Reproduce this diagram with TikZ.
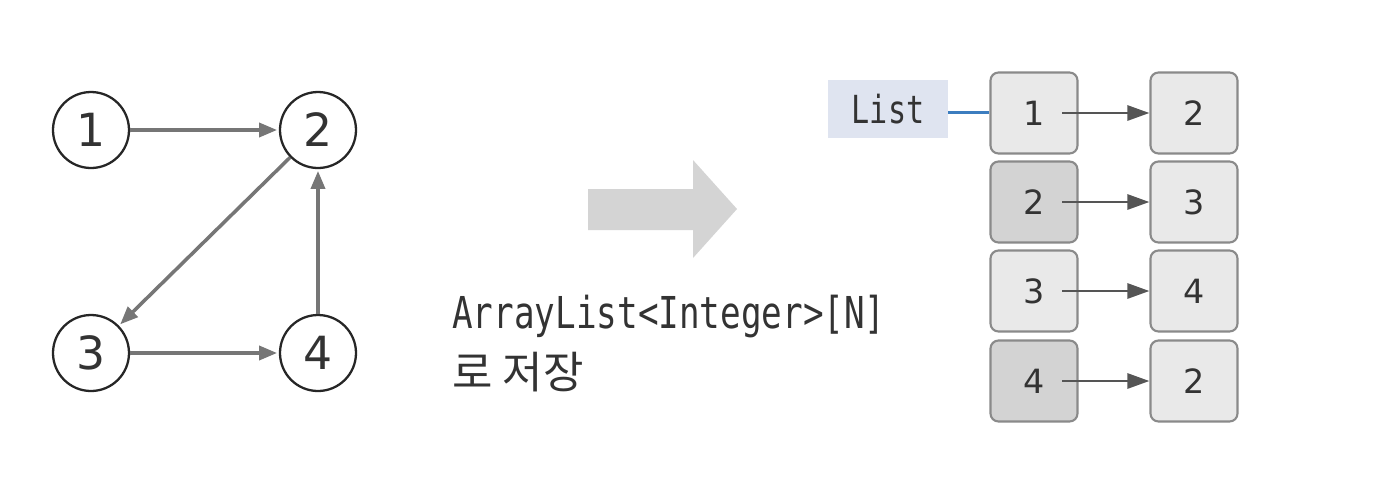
\documentclass[tikz,border=0pt]{standalone}
\usepackage{fontspec}
\usepackage{tikz}
\usetikzlibrary{arrows.meta}
\setmainfont{DejaVu Sans}
\newfontfamily\codefont[FakeStretch=0.78]{DejaVu Sans Mono}
\newfontfamily\kofont{Noto Sans CJK KR}
\definecolor{edgegray}{HTML}{767676}
\definecolor{linkgray}{HTML}{555555}
\definecolor{cellline}{HTML}{8A8A8A}
\definecolor{celllight}{HTML}{E9E9E9}
\definecolor{celldark}{HTML}{D3D3D3}
\definecolor{listfill}{HTML}{DFE4F0}
\definecolor{listline}{HTML}{3C7DBF}
\definecolor{bigarrow}{HTML}{D4D4D4}
\definecolor{txt}{HTML}{333333}

\begin{document}
\begin{tikzpicture}[x=0.2mm, y=-0.2mm,
    vertex/.style={circle, draw=black!85, line width=1.3pt, fill=white,
        minimum size=15.2mm, inner sep=0pt, text=txt, font=\fontsize{26}{26}\selectfont},
    edge/.style={draw=edgegray, line width=2pt, shorten >=1pt,
        -{Triangle[length=3.6mm, width=2.8mm]}},
    cell/.style={draw=cellline, rounded corners=1.6mm, line width=1.2pt,
        minimum width=17.4mm, minimum height=16.2mm, inner sep=0pt,
        text=txt, font=\fontsize{19}{19}\selectfont},
    link/.style={draw=linkgray, line width=1.6pt,
        -{Triangle[length=4.4mm, width=3mm]}}
]
    \useasboundingbox[fill=white] (0,0) rectangle (1375,498);

    % Graph
    \node[vertex] (v1) at (91,130) {1};
    \node[vertex] (v2) at (318,130) {2};
    \node[vertex] (v3) at (91,353) {3};
    \node[vertex] (v4) at (318,353) {4};
    \draw[edge] (v1) -- (v2);
    \draw[edge] (v2) -- (v3);
    \draw[edge] (v3) -- (v4);
    \draw[edge] (v4) -- (v2);

    % Big arrow
    \fill[bigarrow] (588,189) -- (693,189) -- (693,160) -- (737,209)
        -- (693,258) -- (693,230) -- (588,230) -- cycle;

    % Caption
    \node[anchor=base west, inner sep=0pt, text=txt,
        font=\codefont\fontsize{25}{25}\selectfont] (code) at (452,328)
        {ArrayList<Integer>[N]};
    \node[anchor=base west, inner sep=0pt, text=txt,
        font=\kofont\fontsize{25}{25}\selectfont] (save) at (452,388)
        {로 저장};

    % Adjacency list
    \node[cell, fill=celllight] (l1) at (1034,113) {1};
    \node[cell, fill=celldark]  (l2) at (1034,202) {2};
    \node[cell, fill=celllight] (l3) at (1034,291) {3};
    \node[cell, fill=celldark]  (l4) at (1034,381) {4};
    \node[cell, fill=celllight] (r1) at (1194,113) {2};
    \node[cell, fill=celllight] (r2) at (1194,202) {3};
    \node[cell, fill=celllight] (r3) at (1194,291) {4};
    \node[cell, fill=celllight] (r4) at (1194,381) {2};
    \foreach \i in {1,...,4}
        \draw[link] ([xshift=5.6mm]l\i.center) -- (r\i.west);

    % List label
    \node[fill=listfill, minimum width=24mm, minimum height=11.6mm, text=txt,
        font=\codefont\fontsize{22}{22}\selectfont] (list) at (888,109) {List};
    \draw[listline, line width=1.7pt] ([yshift=-0.6mm]list.east) -- ([yshift=-0.6mm]list.east -| l1.west);
\end{tikzpicture}
\end{document}
